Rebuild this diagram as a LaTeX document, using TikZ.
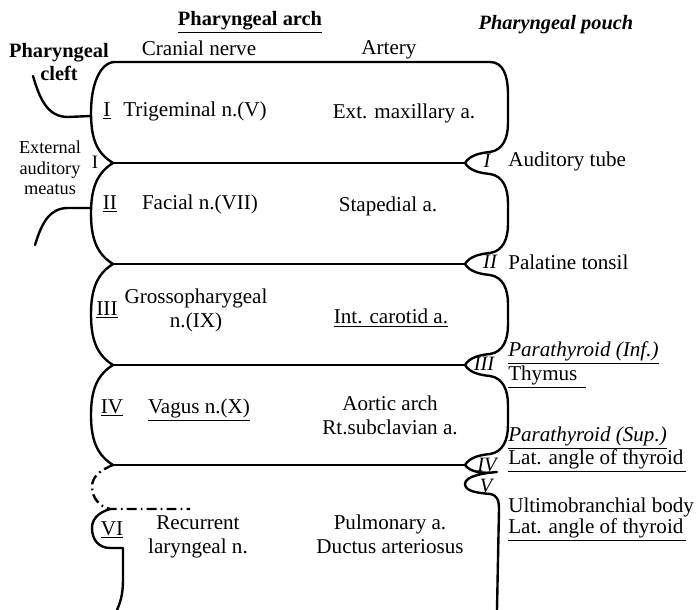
\documentclass[tikz,border=0pt]{standalone}
\usepackage{fontspec}
\setmainfont{Liberation Serif}
\usepackage{tikz}
\tikzset{
  wall/.style={line width=1.7pt,line join=round,line cap=round},
  lost/.style={wall,line cap=butt,dash pattern=on 7pt off 3pt on 1.2pt off 3pt},
  lbl/.style={font=\fontsize{15}{17}\selectfont,inner sep=0pt,align=center},
  small/.style={font=\fontsize{13}{14.5}\selectfont,inner sep=0pt,align=center},
  hd/.style={font=\fontsize{14.5}{16.5}\selectfont\bfseries,inner sep=0pt,align=center},
  pnum/.style={font=\fontsize{14.5}{15}\selectfont\itshape,inner sep=0pt},
  organ/.style={lbl,anchor=west},
}
% left wall of one arch, cusp to cusp
\newcommand{\archleft}[2]{%
  \draw[wall] (113,#1) .. controls (97,{#1+10}) and (91,{#1+25}) .. (91,{(#1+#2)/2})
    .. controls (91,{#2-25}) and (97,{#2-10}) .. (113,#2);
}
% right wall of one arch, pouch tip to pouch tip
\newcommand{\archright}[2]{%
  \draw[wall] (465,#1) .. controls (470,{#1+8}) and (480,{#1+10}) .. (490,{#1+11})
    .. controls (503,{#1+13}) and (508,{#1+25}) .. (508,{#1+40}) -- (508,{#2-40})
    .. controls (508,{#2-25}) and (503,{#2-13}) .. (490,{#2-11})
    .. controls (480,{#2-10}) and (470,{#2-8}) .. (465,#2);
}
\newcommand{\firstarch}{%
  \draw[wall] (490,62) -- (115,62) .. controls (100,62) and (91,85) .. (91,112)
    .. controls (91,140) and (97,153) .. (113,163);
  \draw[wall] (490,62) .. controls (503,62) and (508,75) .. (508,95) -- (508,123)
    .. controls (508,138) and (503,150) .. (490,152) .. controls (480,153) and (470,155) .. (465,163);
}
\newcommand{\borders}{%
  \draw[wall] (113,163) -- (465,163);
  \draw[wall] (113,264) -- (465,264);
  \draw[wall] (113,365) -- (465,365);
  \draw[wall] (113,465) -- (465,465);
}
\newcommand{\clefts}{%
  \draw[wall] (33,76) .. controls (40,100) and (48,117) .. (68,117) -- (91,116);
  \draw[wall] (35,245) .. controls (42,222) and (50,208) .. (68,208) -- (91,208);
}
\newcommand{\lowerarches}{%
  \draw[lost] (113,465) .. controls (98,471) and (92,478) .. (92,487)
    .. controls (92,498) and (100,507) .. (110,509) -- (190,509);
  \draw[wall] (110,509) .. controls (97,513) and (92,520) .. (92,528)
    .. controls (92,540) and (99,548) .. (110,548) -- (123,548) -- (123,580)
    .. controls (123,595) and (120,603) .. (117,610);
  \draw[wall] (465,465) .. controls (470,472) and (482,474) .. (497,472)
    .. controls (484,473) and (465,476) .. (465,484) .. controls (465,492) and (480,493) .. (490,494)
    .. controls (497,495) and (499,500) .. (499,509) -- (497,610);
}

\begin{document}
\begin{tikzpicture}[x=0.025cm,y=-0.025cm]
\useasboundingbox (0,0) rectangle (700,610);
\firstarch \borders
\archleft{163}{264} \archleft{264}{365} \archleft{365}{465}
\archright{163}{264} \archright{264}{365} \archright{365}{465}
\clefts \lowerarches
% headings
\node[hd] (hdArch) at (250,22) {\underline{Pharyngeal arch}};
\node[hd,font=\fontsize{14.5}{16.5}\selectfont\bfseries\itshape] (hdPouch) at (556,25) {Pharyngeal pouch};
\node[hd,font=\fontsize{14.5}{16.5}\selectfont\bfseries] (hdCleft) at (59,62) {Pharyngeal\\cleft};
\node[lbl] (hdNerve) at (199,48) {Cranial nerve};
\node[lbl] (hdArtery) at (389,50) {Artery};
\node[small] (meatus) at (50,168) {External\\auditory\\meatus};
\node[lbl,font=\fontsize{13.5}{15}\selectfont] (meatusI) at (95,162) {I};
% arches
\node[lbl] (numI) at (107,111) {\underline{I}};
\node[lbl] (nerveI) at (195,111) {Trigeminal n.(V)};
\node[lbl] (arteryI) at (404,113) {Ext. maxillary a.};
\node[lbl] (numII) at (110,204) {\underline{II}};
\node[lbl] (nerveII) at (200,204) {Facial n.(VII)};
\node[lbl] (arteryII) at (388,206) {Stapedial a.};
\node[lbl] (numIII) at (107,310) {\underline{III}};
\node[lbl] (nerveIII) at (196,310) {Grossopharygeal\\n.(IX)};
\node[lbl] (arteryIII) at (391,318) {\underline{Int. carotid a.}};
\node[lbl] (numIV) at (112,408) {\underline{IV}};
\node[lbl] (nerveIV) at (199,410) {\underline{Vagus n.(X)}};
\node[lbl] (arteryIV) at (390,415) {Aortic arch\\Rt.subclavian a.};
\node[lbl] (numVI) at (112,530) {\underline{VI}};
\node[lbl] (nerveVI) at (198,537) {Recurrent\\laryngeal n.};
\node[lbl] (arteryVI) at (390,534) {Pulmonary a.\\Ductus arteriosus};
% pouches
\node[pnum] (pouchI) at (487,161) {I};
\node[pnum] (pouchII) at (490,262) {II};
\node[pnum] (pouchIII) at (484,364) {III};
\node[pnum] (pouchIV) at (487,465) {IV};
\node[pnum] (pouchV) at (486,486) {V};
\node[organ] (tube) at (508,161) {Auditory tube};
\node[organ] (tonsil) at (508,262) {Palatine tonsil};
\node[organ] (parInf) at (508,353) {\underline{\itshape Parathyroid (Inf.)}};
\node[organ] (thymus) at (508,377) {\underline{Thymus\hspace{6pt}}};
\node[organ] (parSup) at (508,438) {\underline{\itshape Parathyroid (Sup.)}};
\node[organ] (latIV) at (508,461) {\underline{Lat. angle of thyroid\hspace{2pt}}};
\node[organ] (ultimo) at (508,507) {Ultimobranchial body};
\node[organ] (latV) at (508,530) {\underline{Lat. angle of thyroid\hspace{2pt}}};
\end{tikzpicture}
\end{document}
